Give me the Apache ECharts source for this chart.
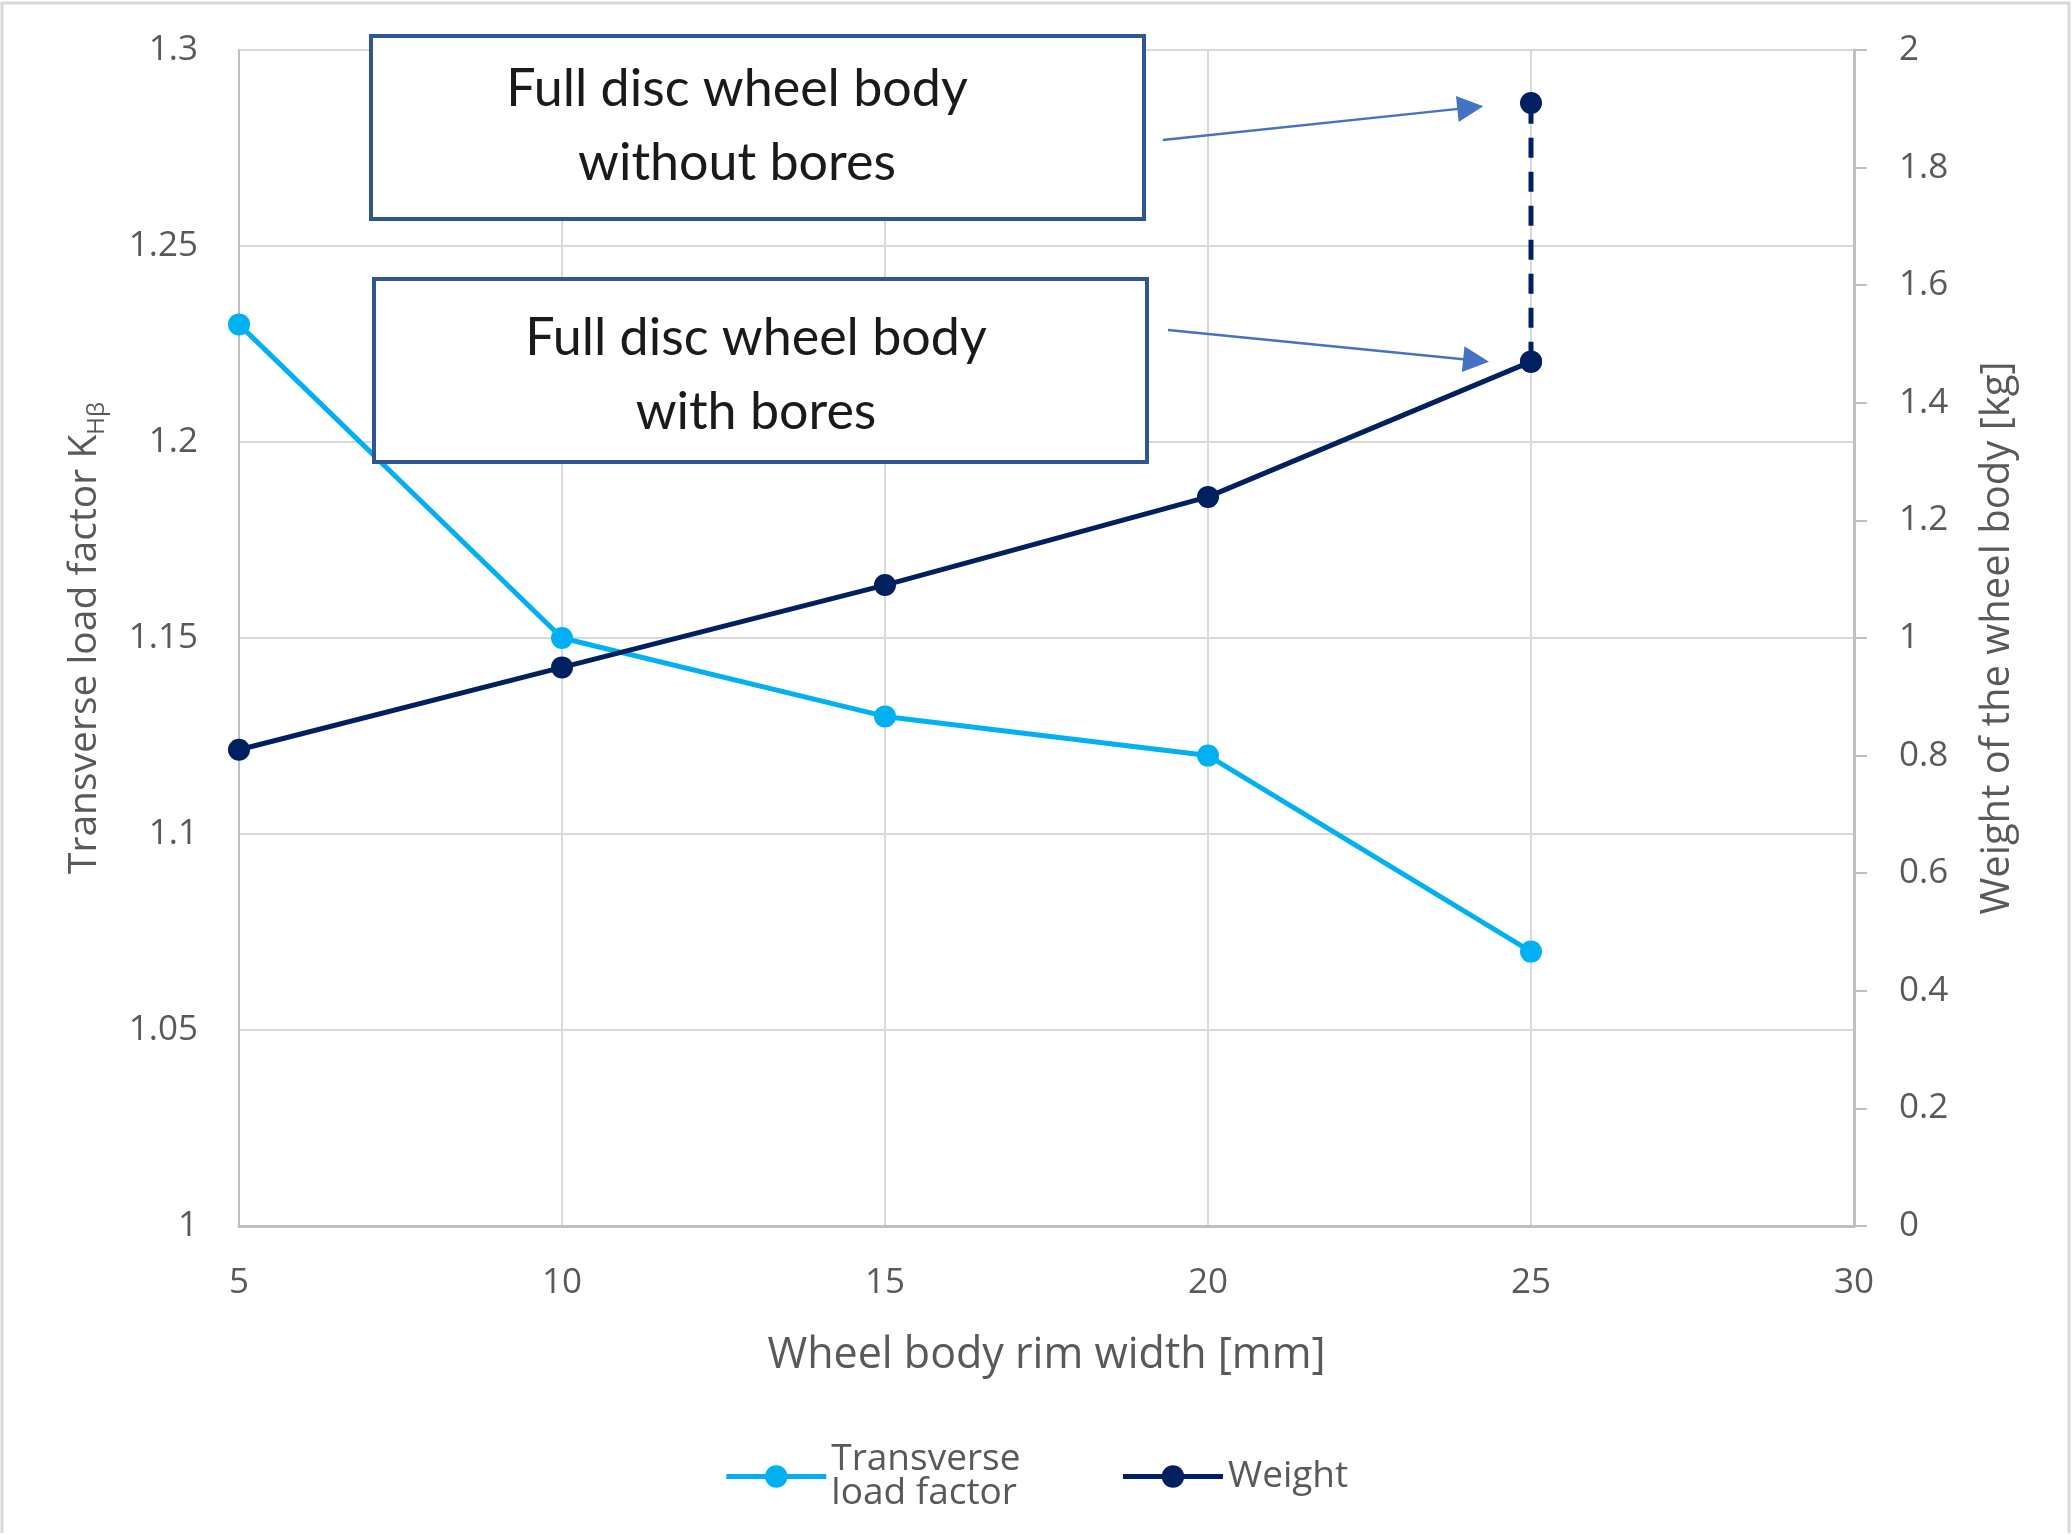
<!DOCTYPE html>
<html>
<head>
<meta charset="utf-8">
<script src="https://cdn.jsdelivr.net/npm/echarts@6/dist/echarts.min.js"></script>
<style>
html,body{margin:0;padding:0;background:#fff;}
#chart{width:2072px;height:1535px;}
</style>
</head>
<body>
<div id="chart"></div>
<script>
// ---- data ----
var rimWidth = [5, 10, 15, 20, 25];
var loadFactor = [1.23, 1.15, 1.13, 1.12, 1.07];
var weight = [0.81, 0.95, 1.09, 1.24, 1.47];
var noBoresX = [25, 25];
var noBoresWeight = [1.47, 1.91];
var xTicks = {min: 5, max: 30, interval: 5};
var leftTicks = {min: 1, max: 1.3, interval: 0.05};
var rightTicks = {min: 0, max: 2, interval: 0.2};
var annotationTexts = ['Full disc wheel body\nwithout bores', 'Full disc wheel body\nwith bores'];
// arrows in data coordinates (x, weight)
var arrowWithout = [[19.30, 1.847], [24.06, 1.902]];
var arrowWith = [[19.38, 1.524], [24.15, 1.472]];

var FONT = '"Open Sans", "DejaVu Sans", sans-serif';
var GREY = '#595959';

var chart = echarts.init(document.getElementById('chart'));

function zip(xs, ys) { return xs.map(function (x, i) { return [x, ys[i]]; }); }

var option = {
  backgroundColor: '#fff',
  animation: false,
  grid: {left: 239, right: 218, top: 50, bottom: 309, containLabel: false},
  xAxis: {
    type: 'value', min: xTicks.min, max: xTicks.max, interval: xTicks.interval,
    name: 'Wheel body rim width [mm]', nameLocation: 'middle', nameGap: 108,
    nameTextStyle: {fontFamily: FONT, fontSize: 43, color: GREY},
    axisLine: {show: true, lineStyle: {color: '#BFBFBF', width: 3}},
    axisTick: {show: false},
    axisLabel: {margin: 40, fontFamily: FONT, fontSize: 35, color: GREY},
    splitLine: {show: true, lineStyle: {color: '#D9D9D9', width: 2}}
  },
  yAxis: [{
    type: 'value', min: leftTicks.min, max: leftTicks.max, interval: leftTicks.interval,
    name: '{a|Transverse load factor K}{b|Hβ}', nameLocation: 'middle', nameGap: 130,
    nameTextStyle: {
      rich: {
        a: {fontFamily: FONT, fontSize: 39, color: GREY, lineHeight: 48},
        b: {fontFamily: FONT, fontSize: 24, color: GREY, lineHeight: 48, verticalAlign: 'bottom'}
      }
    },
    axisLine: {show: true, lineStyle: {color: '#BFBFBF', width: 2}},
    axisTick: {show: false},
    axisLabel: {margin: 41, fontFamily: FONT, fontSize: 35, color: GREY,
      formatter: function (v) { return String(+v.toFixed(2)); }},
    splitLine: {show: true, lineStyle: {color: '#D9D9D9', width: 2}}
  }, {
    type: 'value', position: 'right', min: rightTicks.min, max: rightTicks.max, interval: rightTicks.interval,
    name: 'Weight of the wheel body [kg]', nameLocation: 'middle', nameGap: 124,
    nameTextStyle: {fontFamily: FONT, fontSize: 40, color: GREY},
    axisLine: {show: true, lineStyle: {color: '#BFBFBF', width: 3}},
    axisTick: {show: true, length: 13, lineStyle: {color: '#BFBFBF', width: 2}},
    axisLabel: {margin: 45, fontFamily: FONT, fontSize: 35, color: GREY,
      formatter: function (v) { return String(+v.toFixed(2)); }},
    splitLine: {show: false}
  }],
  legend: {
    left: 'center', top: 1436,
    data: ['Transverse load factor', 'Weight'],
    itemWidth: 100, itemHeight: 28, itemGap: 100,
    lineStyle: {width: 5},
    formatter: function (n) { return n === 'Transverse load factor' ? 'Transverse\nload factor' : n; },
    textStyle: {fontFamily: FONT, fontSize: 37, color: GREY, lineHeight: 34}
  },
  series: [{
    name: 'Transverse load factor', type: 'line', yAxisIndex: 0,
    data: zip(rimWidth, loadFactor),
    symbol: 'circle', symbolSize: 22,
    lineStyle: {color: '#00B0F0', width: 5},
    itemStyle: {color: '#00B0F0'},
    z: 3
  }, {
    name: 'Weight', type: 'line', yAxisIndex: 1,
    data: zip(rimWidth, weight),
    symbol: 'circle', symbolSize: 22,
    lineStyle: {color: '#002060', width: 5},
    itemStyle: {color: '#002060'},
    z: 4,
    markLine: {
      silent: true, animation: false,
      symbol: ['none', 'triangle'], symbolSize: 26,
      label: {show: false},
      lineStyle: {color: '#4472C4', width: 2.5, type: 'solid'},
      itemStyle: {color: '#4472C4'},
      emphasis: {disabled: true},
      data: [
        [{coord: arrowWithout[0]}, {coord: arrowWithout[1]}],
        [{coord: arrowWith[0]}, {coord: arrowWith[1]}]
      ]
    }
  }, {
    name: 'Without bores', type: 'line', yAxisIndex: 1,
    data: zip(noBoresX, noBoresWeight),
    symbol: 'circle', symbolSize: 22,
    lineStyle: {color: '#002060', width: 5, type: [20, 14]},
    itemStyle: {color: '#002060'},
    z: 4
  }],
  graphic: [
    {type: 'polyline', silent: true, z: -1,
      shape: {points: [[2, 1533], [2, 3], [2069, 3], [2069, 1533]]},
      style: {stroke: '#D9D9D9', lineWidth: 3, fill: null}},
    {type: 'rect', z: 100, silent: true, shape: {x: 371, y: 36, width: 773, height: 183},
      style: {fill: '#fff', stroke: '#2F5597', lineWidth: 4}},
    {type: 'text', z: 101, silent: true, x: 737, y: 126, style: {text: annotationTexts[0], fill: '#1a1a1a',
      font: '52px Lato, "Open Sans", sans-serif', lineHeight: 74, align: 'center', verticalAlign: 'middle'}},
    {type: 'rect', z: 100, silent: true, shape: {x: 374, y: 279, width: 773, height: 183},
      style: {fill: '#fff', stroke: '#2F5597', lineWidth: 4}},
    {type: 'text', z: 101, silent: true, x: 756, y: 375, style: {text: annotationTexts[1], fill: '#1a1a1a',
      font: '52px Lato, "Open Sans", sans-serif', lineHeight: 74, align: 'center', verticalAlign: 'middle'}}
  ]
};
chart.setOption(option);
</script>
</body>
</html>
